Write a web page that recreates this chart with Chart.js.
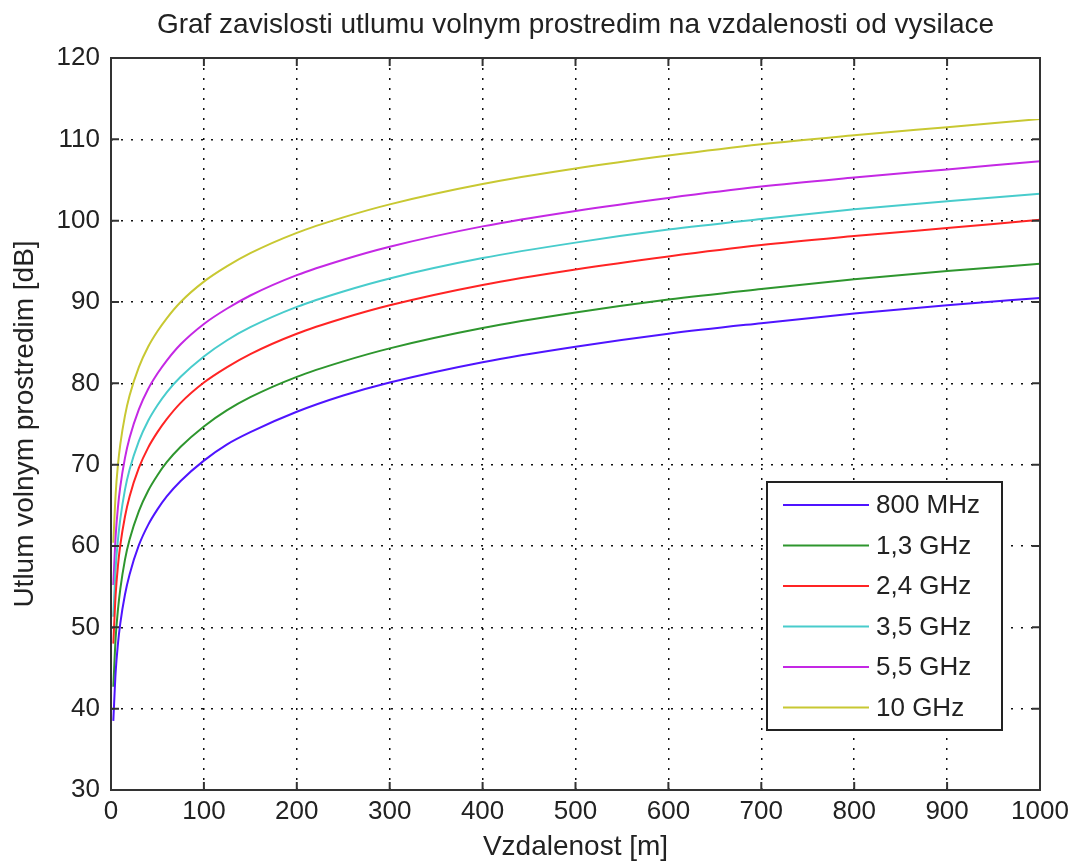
<!DOCTYPE html>
<html>
<head>
<meta charset="utf-8">
<script src="https://cdn.jsdelivr.net/npm/chart.js@4"></script>
<style>
html,body{margin:0;padding:0;background:#fff;}
#wrap{width:1069px;height:861px;position:relative;}
</style>
</head>
<body>
<div id="wrap"><canvas id="c" width="1069" height="861"></canvas></div>
<script>
// Distance samples [m]
const distances = [2.5, 5, 7.5, 10, 15, 20, 30, 40, 50, 60, 75, 100, 125, 150, 200, 250, 300, 400, 500, 600, 700, 800, 900, 1000];
// Attenuation [dB]
const loss800MHz = [38.5, 44.5, 48.0, 50.5, 54.0, 56.5, 60.1, 62.6, 64.5, 66.1, 68.0, 70.5, 72.5, 74.0, 76.5, 78.5, 80.1, 82.6, 84.5, 86.1, 87.4, 88.6, 89.6, 90.5];
const loss1_3GHz = [42.7, 48.7, 52.2, 54.7, 58.3, 60.8, 64.3, 66.8, 68.7, 70.3, 72.2, 74.7, 76.7, 78.3, 80.8, 82.7, 84.3, 86.8, 88.7, 90.3, 91.6, 92.8, 93.8, 94.7];
const loss2_4GHz = [48.0, 54.0, 57.6, 60.1, 63.6, 66.1, 69.6, 72.1, 74.0, 75.6, 77.6, 80.1, 82.0, 83.6, 86.1, 88.0, 89.6, 92.1, 94.0, 95.6, 97.0, 98.1, 99.1, 100.1];
const loss3_5GHz = [51.3, 57.3, 60.8, 63.3, 66.9, 69.4, 72.9, 75.4, 77.3, 78.9, 80.8, 83.3, 85.3, 86.9, 89.4, 91.3, 92.9, 95.4, 97.3, 98.9, 100.2, 101.4, 102.4, 103.3];
const loss5_5GHz = [55.2, 61.2, 64.8, 67.3, 70.8, 73.3, 76.8, 79.3, 81.2, 82.8, 84.8, 87.3, 89.2, 90.8, 93.3, 95.2, 96.8, 99.3, 101.2, 102.8, 104.2, 105.3, 106.3, 107.3];
const loss10GHz  = [60.4, 66.4, 70.0, 72.5, 76.0, 78.5, 82.0, 84.5, 86.4, 88.0, 90.0, 92.5, 94.4, 96.0, 98.5, 100.4, 102.0, 104.5, 106.4, 108.0, 109.4, 110.5, 111.5, 112.5];
const seriesLabels = ['800 MHz', '1,3 GHz', '2,4 GHz', '3,5 GHz', '5,5 GHz', '10 GHz'];
const seriesValues = [loss800MHz, loss1_3GHz, loss2_4GHz, loss3_5GHz, loss5_5GHz, loss10GHz];
const seriesColors = ['#4f14ff', '#2e962e', '#ff2424', '#48cccc', '#c428e4', '#c8c832'];
const titleText = 'Graf zavislosti utlumu volnym prostredim na vzdalenosti od vysilace';
const xLabel = 'Vzdalenost [m]';
const yLabel = 'Utlum volnym prostredim [dB]';

const FONT = "'Liberation Sans', Arial, sans-serif";
const TXT = '#222';

const datasets = seriesValues.map((vals, i) => ({
  label: seriesLabels[i],
  data: distances.map((d, j) => ({x: d, y: vals[j]})),
  borderColor: seriesColors[i],
  backgroundColor: seriesColors[i],
  borderWidth: 2,
  pointRadius: 0,
  fill: false,
  cubicInterpolationMode: 'monotone'
}));

const frame = {
  id: 'frame',
  afterDatasetsDraw(chart) {
    const ctx = chart.ctx, a = chart.chartArea;
    const xs = chart.scales.x, ys = chart.scales.y;
    ctx.save();
    ctx.strokeStyle = '#333';
    ctx.lineWidth = 2;
    ctx.strokeRect(a.left, a.top, a.right - a.left, a.bottom - a.top);
    ctx.beginPath();
    const L = 8;
    xs.ticks.forEach(t => {
      const px = xs.getPixelForValue(t.value);
      ctx.moveTo(px, a.bottom); ctx.lineTo(px, a.bottom - L);
      ctx.moveTo(px, a.top); ctx.lineTo(px, a.top + L);
    });
    ys.ticks.forEach(t => {
      const py = ys.getPixelForValue(t.value);
      ctx.moveTo(a.left, py); ctx.lineTo(a.left + L, py);
      ctx.moveTo(a.right, py); ctx.lineTo(a.right - L, py);
    });
    ctx.stroke();
    // legend box
    const bx = 767, by = 482, bw = 235, bh = 248;
    ctx.fillStyle = '#fff';
    ctx.fillRect(bx, by, bw, bh);
    ctx.strokeStyle = '#222';
    ctx.lineWidth = 2;
    ctx.strokeRect(bx, by, bw, bh);
    ctx.font = '26px ' + FONT;
    ctx.textBaseline = 'middle';
    ctx.textAlign = 'left';
    chart.data.datasets.forEach((ds, i) => {
      const y = by + 23 + i * 40.5;
      ctx.strokeStyle = ds.borderColor;
      ctx.lineWidth = 2;
      ctx.beginPath();
      ctx.moveTo(bx + 16, y); ctx.lineTo(bx + 102, y);
      ctx.stroke();
      ctx.fillStyle = TXT;
      ctx.fillText(ds.label, bx + 109, y + 1);
    });
    ctx.restore();
  }
};

new Chart(document.getElementById('c'), {
  type: 'line',
  data: { datasets },
  plugins: [frame],
  options: {
    responsive: false,
    animation: false,
    layout: { padding: { top: 2, left: 0, right: 29, bottom: 0 } },
    plugins: {
      legend: { display: false },
      tooltip: { enabled: false },
      title: {
        display: true,
        fullSize: false,
        text: titleText,
        color: TXT,
        font: { family: FONT, size: 28, weight: 'normal', lineHeight: 1.2 },
        padding: { top: 6, bottom: 16.4 }
      }
    },
    scales: {
      x: {
        type: 'linear',
        min: 0, max: 1000,
        afterFit(s) { s.height = 71; s.paddingRight = 0; s.paddingLeft = 0; },
        ticks: { stepSize: 100, color: TXT, padding: 6, maxRotation: 0,
                 callback: v => String(v),
                 font: { family: FONT, size: 26 } },
        grid: { color: '#111', lineWidth: 1.5, drawTicks: false },
        border: { display: false, dash: [2, 8] },
        title: { display: true, text: xLabel, color: TXT,
                 font: { family: FONT, size: 28, lineHeight: 1 },
                 padding: { top: 0, bottom: 0 } }
      },
      y: {
        min: 30, max: 120,
        afterFit(s) { s.width = 111; },
        ticks: { stepSize: 10, color: TXT, padding: 11,
                 callback: v => String(v),
                 font: { family: FONT, size: 26 } },
        grid: { color: '#111', lineWidth: 1.5, drawTicks: false },
        border: { display: false, dash: [2, 8] },
        title: { display: true, text: yLabel, color: TXT,
                 font: { family: FONT, size: 28, lineHeight: 1 },
                 padding: { top: 11, bottom: 0 } }
      }
    }
  }
});
</script>
</body>
</html>
